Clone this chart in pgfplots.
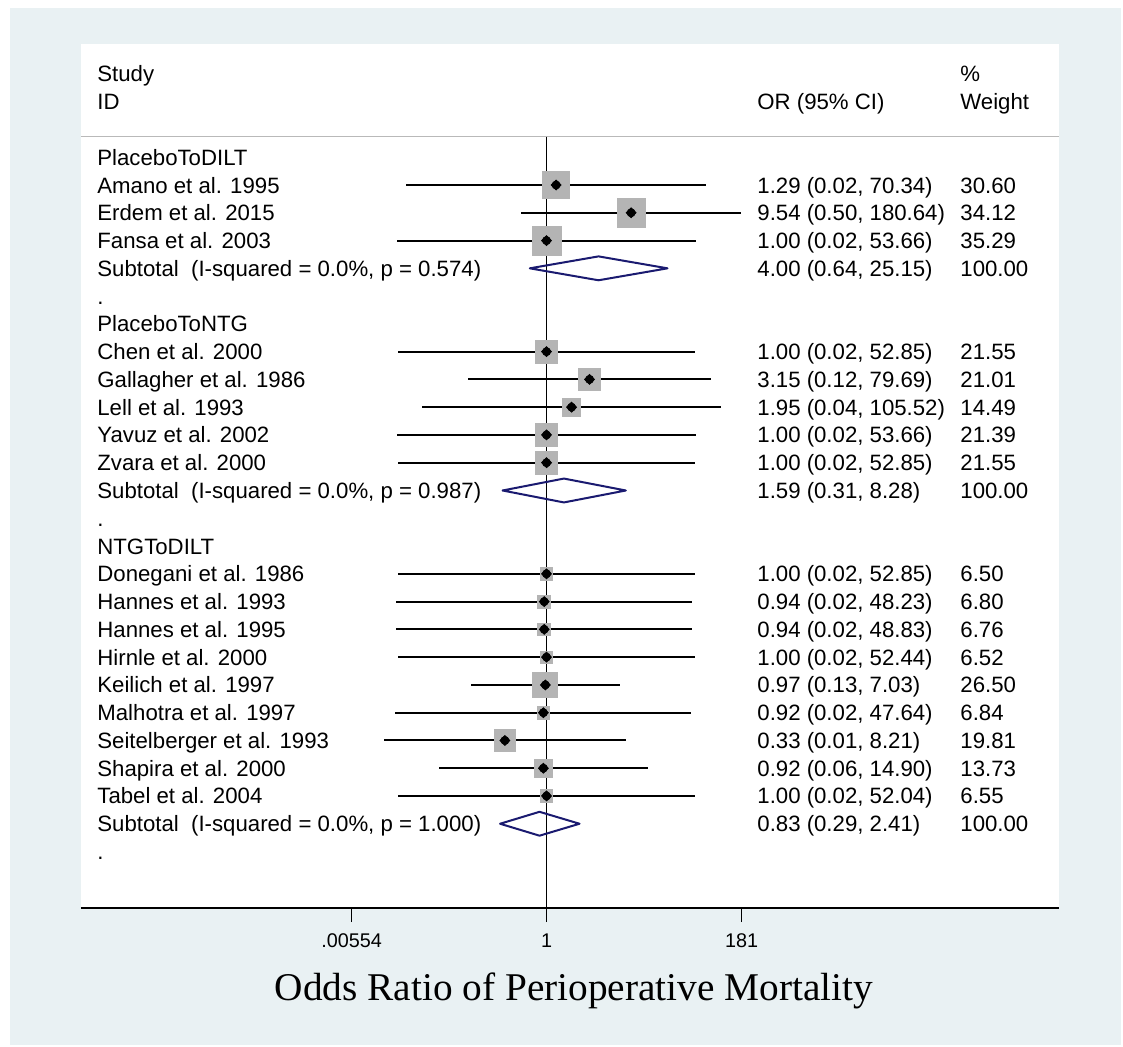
\documentclass[border=0pt]{standalone}
\usepackage{fontspec}
\setmainfont{Liberation Sans}
\newfontfamily\seriffont{Liberation Serif}
\usepackage{pgfplots}
\usepackage{pgfplotstable}
\pgfplotsset{compat=1.18}

\definecolor{bgblue}{RGB}{233,241,243}
\definecolor{boxgray}{RGB}{180,180,180}
\definecolor{subnavy}{RGB}{26,26,112}
\definecolor{rulegray}{RGB}{185,185,185}

% row: line of the forest plot (1 = first group label), or/lo/hi: odds ratio and 95% CI, w: % weight
\pgfplotstableread{
row or   lo      hi     w
2   1.29 0.02366 70.34  30.60
3   9.54 0.5038  180.64 34.12
4   1.00 0.01864 53.66  35.29
8   1.00 0.01892 52.85  21.55
9   3.15 0.1245  79.69  21.01
10  1.95 0.0360  105.52 14.49
11  1.00 0.01864 53.66  21.39
12  1.00 0.01892 52.85  21.55
16  1.00 0.01892 52.85  6.50
17  0.94 0.01832 48.23  6.80
18  0.94 0.01810 48.83  6.76
19  1.00 0.01907 52.44  6.52
20  0.97 0.1338  7.03   26.50
21  0.92 0.01777 47.64  6.84
22  0.33 0.01326 8.21   19.81
23  0.92 0.0568  14.90  13.73
24  1.00 0.01922 52.04  6.55
}\studies

\newcommand\txt{\fontsize{11.1}{13}\selectfont}
\newcommand\rowtxt[4]{%
  \node[anchor=base west,inner sep=0pt] at (97,{129.46+27.77*(#1)+8}) {\txt #2};
  \node[anchor=base west,inner sep=0pt] at (757,{129.46+27.77*(#1)+8}) {\txt #3};
  \node[anchor=base west,inner sep=0pt] at (960,{129.46+27.77*(#1)+8}) {\txt #4};}

\begin{document}
\begin{tikzpicture}
\begin{scope}[x=0.5pt,y=-0.5pt]
  \fill[white] (0,0) rectangle (1123,1046);
  \fill[bgblue] (10,8) rectangle (1121,1045);
\end{scope}

\begin{axis}[
  at={(40.5pt,-21.85pt)}, anchor=north west,
  scale only axis, width=489pt, height=432.15pt,
  xmode=log, xmin=4.09e-6, xmax=8.55e5,
  y dir=reverse, ymin=-3.088, ymax=28.035,
  axis x line*=bottom, axis y line=none,
  axis background/.style={fill=white},
  axis line style={line width=1pt, black},
  xtick={0.00554,1,181}, xticklabels={.00554,1,181},
  xminorticks=false,
  tick align=outside, major tick length=7pt,
  xtick style={line width=0.7pt, black},
  xticklabel style={font=\fontsize{9.9}{10}\selectfont, anchor=north, inner sep=0pt, yshift=-5.5pt},
  ytick=\empty,
  clip=false,
]
  % header rule and line of no effect
  \addplot[rulegray, line width=0.75pt] coordinates {(4.09e-6,0.26) (8.55e5,0.26)};
  \addplot[black, line width=0.7pt] coordinates {(1,0.26) (1,28.035)};

  % weight boxes
  \addplot[scatter, only marks, mark=square*,
    scatter/use mapped color={draw=boxgray, fill=boxgray},
    visualization depends on={1.215*sqrt(\thisrow{w}) \as \msz},
    scatter/@pre marker code/.append style={/tikz/mark size=\msz}]
    table[x=or, y=row] {\studies};

  % confidence intervals
  \addplot[only marks, mark=none,
    error bars/.cd, x dir=both, x explicit, error mark=none,
    error bar style={line width=1pt, black}]
    table[x=or, y=row,
      x error plus expr=\thisrow{hi}-\thisrow{or},
      x error minus expr=\thisrow{or}-\thisrow{lo}] {\studies};

  % point estimates
  \addplot[only marks, mark=square*, mark size=1.75pt,
    mark options={rotate=45, draw=black, fill=black}]
    table[x=or, y=row] {\studies};

  % subtotal diamonds
  \addplot[subnavy, line width=1pt, line join=round] coordinates
    {(0.64,5) (4.00,4.57) (25.15,5) (4.00,5.43)} -- cycle;
  \addplot[subnavy, line width=1pt, line join=round] coordinates
    {(0.31,13) (1.59,12.57) (8.28,13) (1.59,13.43)} -- cycle;
  \addplot[subnavy, line width=1pt, line join=round] coordinates
    {(0.29,25) (0.83,24.57) (2.41,25) (0.83,25.43)} -- cycle;
\end{axis}

\begin{scope}[x=0.5pt,y=-0.5pt]
  \rowtxt{-2}{Study}{}{\%}
  \rowtxt{-1}{ID}{OR (95\% CI)}{Weight}
  \rowtxt{1}{PlaceboToDILT}{}{}
  \rowtxt{2}{Amano et al. 1995}{1.29 (0.02, 70.34)}{30.60}
  \rowtxt{3}{Erdem et al. 2015}{9.54 (0.50, 180.64)}{34.12}
  \rowtxt{4}{Fansa et al. 2003}{1.00 (0.02, 53.66)}{35.29}
  \rowtxt{5}{Subtotal\ \ (I-squared = 0.0\%, p = 0.574)}{4.00 (0.64, 25.15)}{100.00}
  \rowtxt{6}{.}{}{}
  \rowtxt{7}{PlaceboToNTG}{}{}
  \rowtxt{8}{Chen et al. 2000}{1.00 (0.02, 52.85)}{21.55}
  \rowtxt{9}{Gallagher et al. 1986}{3.15 (0.12, 79.69)}{21.01}
  \rowtxt{10}{Lell et al. 1993}{1.95 (0.04, 105.52)}{14.49}
  \rowtxt{11}{Yavuz et al. 2002}{1.00 (0.02, 53.66)}{21.39}
  \rowtxt{12}{Zvara et al. 2000}{1.00 (0.02, 52.85)}{21.55}
  \rowtxt{13}{Subtotal\ \ (I-squared = 0.0\%, p = 0.987)}{1.59 (0.31, 8.28)}{100.00}
  \rowtxt{14}{.}{}{}
  \rowtxt{15}{NTGToDILT}{}{}
  \rowtxt{16}{Donegani et al. 1986}{1.00 (0.02, 52.85)}{6.50}
  \rowtxt{17}{Hannes et al. 1993}{0.94 (0.02, 48.23)}{6.80}
  \rowtxt{18}{Hannes et al. 1995}{0.94 (0.02, 48.83)}{6.76}
  \rowtxt{19}{Hirnle et al. 2000}{1.00 (0.02, 52.44)}{6.52}
  \rowtxt{20}{Keilich et al. 1997}{0.97 (0.13, 7.03)}{26.50}
  \rowtxt{21}{Malhotra et al. 1997}{0.92 (0.02, 47.64)}{6.84}
  \rowtxt{22}{Seitelberger et al. 1993}{0.33 (0.01, 8.21)}{19.81}
  \rowtxt{23}{Shapira et al. 2000}{0.92 (0.06, 14.90)}{13.73}
  \rowtxt{24}{Tabel et al. 2004}{1.00 (0.02, 52.04)}{6.55}
  \rowtxt{25}{Subtotal\ \ (I-squared = 0.0\%, p = 1.000)}{0.83 (0.29, 2.41)}{100.00}
  \rowtxt{26}{.}{}{}
  \node[anchor=base, inner sep=0pt] at (574,1000)
    {\seriffont\fontsize{19.65}{22}\selectfont Odds Ratio of Perioperative Mortality};
\end{scope}
\end{tikzpicture}
\end{document}
